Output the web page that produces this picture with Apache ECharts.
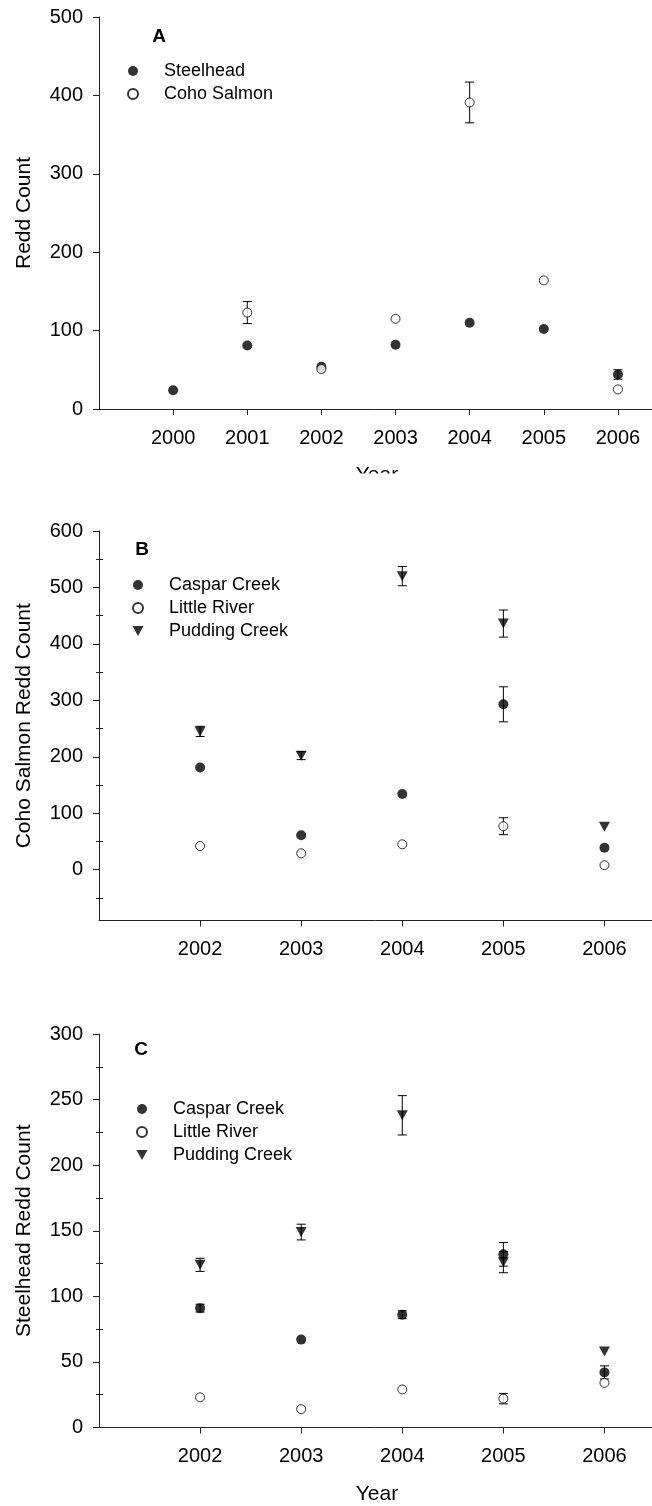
<!DOCTYPE html>
<html>
<head>
<meta charset="utf-8">
<script src="https://cdn.jsdelivr.net/npm/echarts@6/dist/echarts.min.js"></script>
<style>
html,body{margin:0;padding:0;background:#fff;}
#chart{width:652px;height:1506px;}
</style>
</head>
<body>
<div id="chart"></div>
<script>
// ---------- Panel A ----------
const yearsA = [2000, 2001, 2002, 2003, 2004, 2005, 2006];
const steelheadA = [24, 81, 54, 82, 110, 102, 44];
const steelheadErrA = [0, 0, 0, 0, 0, 0, 6];
const cohoA = [null, 123, 51, 115, 391, 164, 25];
const cohoErrA = [0, 14, 0, 0, 26, 0, 0];
const yTicksA = [0, 100, 200, 300, 400, 500];

// ---------- Panel B (Coho salmon) ----------
const yearsB = [2002, 2003, 2004, 2005, 2006];
const casparB = [181, 61, 134, 293, 39];
const casparErrB = [0, 0, 0, 31, 0];
const littleB = [42, 29, 45, 77, 8];
const littleErrB = [0, 0, 0, 15, 0];
const puddingB = [245, 202, 520, 436, 76];
const puddingErrB = [9, 7, 17, 24, 0];
const yTicksB = [0, 100, 200, 300, 400, 500, 600];
const yMinorB = [-50, 50, 150, 250, 350, 450, 550];

// ---------- Panel C (Steelhead) ----------
const yearsC = [2002, 2003, 2004, 2005, 2006];
const casparC = [91, 67, 86, 132, 42];
const casparErrC = [3, 0, 3, 9, 5];
const littleC = [23, 14, 29, 22, 34];
const littleErrC = [0, 0, 0, 4, 0];
const puddingC = [124, 149, 238, 126, 58];
const puddingErrC = [5, 6, 15, 8, 0];
const yTicksC = [0, 50, 100, 150, 200, 250, 300];
const yMinorC = [25, 75, 125, 175, 225, 275];

const FONT = 'Liberation Sans, Arial, Helvetica, sans-serif';
const AX = '#222';
const TRI = 'path://M0,0L10,0L5,9Z';

function pts(xs, ys) {
  const out = [];
  xs.forEach((x, i) => { if (ys[i] != null) out.push([x, ys[i]]); });
  return out;
}
function errs(xs, ys, es) {
  const out = [];
  xs.forEach((x, i) => { if (ys[i] != null && es[i] > 0) out.push([x, ys[i] - es[i], ys[i] + es[i]]); });
  return out;
}
function renderErr(params, api) {
  const x = api.value(0), lo = api.value(1), hi = api.value(2);
  const a = api.coord([x, lo]), b = api.coord([x, hi]);
  const w = 4.5, st = { stroke: '#000', lineWidth: 1 };
  return {
    type: 'group', children: [
      { type: 'line', shape: { x1: a[0], y1: a[1], x2: b[0], y2: b[1] }, style: st },
      { type: 'line', shape: { x1: a[0] - w, y1: a[1], x2: a[0] + w, y2: a[1] }, style: st },
      { type: 'line', shape: { x1: b[0] - w, y1: b[1], x2: b[0] + w, y2: b[1] }, style: st }
    ]
  };
}
function errSeries(name, xi, yi, data) {
  return { type: 'custom', name: name, xAxisIndex: xi, yAxisIndex: yi, z: 1,
    renderItem: renderErr, encode: { x: 0, y: [1, 2] }, data: data, silent: true };
}
const filled = { color: '#000', borderColor: '#000', borderWidth: 0 };
const open = { color: '#fff', borderColor: '#000', borderWidth: 1 };
function sc(name, xi, yi, data, kind) {
  const s = { type: 'scatter', name: name, xAxisIndex: xi, yAxisIndex: yi, z: 3, data: data, silent: true };
  if (kind === 'filled') { s.symbol = 'circle'; s.symbolSize = 10; s.itemStyle = filled; }
  else if (kind === 'open') { s.symbol = 'circle'; s.symbolSize = 9; s.itemStyle = open; }
  else { s.symbol = TRI; s.symbolSize = [11, 10]; s.symbolKeepAspect = false; s.itemStyle = filled; }
  return s;
}

function xAxis(gi, min, ticks, showLabel, name) {
  return {
    type: 'value', gridIndex: gi, min: min, max: 2006.5,
    axisLine: { show: true, onZero: false, lineStyle: { color: AX, width: 1 } },
    axisTick: { show: true, customValues: ticks, length: 6, inside: false, lineStyle: { color: AX, width: 1 } },
    axisLabel: { show: showLabel, customValues: ticks, formatter: v => String(v), fontSize: 20, color: '#000', fontFamily: FONT, margin: 19 },
    splitLine: { show: false },
    name: name || '', nameLocation: 'middle', nameGap: 56,
    nameTextStyle: { fontSize: 21, color: '#000', fontFamily: FONT }
  };
}
function yMain(gi, min, max, ticks, name) {
  return {
    type: 'value', gridIndex: gi, min: min, max: max, position: 'left',
    axisLine: { show: true, onZero: false, lineStyle: { color: AX, width: 1 } },
    axisTick: { show: true, customValues: ticks, length: 6, inside: false, lineStyle: { color: AX, width: 1 } },
    axisLabel: { customValues: ticks, formatter: v => String(v), fontSize: 20, color: '#000', fontFamily: FONT, margin: 16 },
    splitLine: { show: false },
    name: name, nameLocation: 'middle', nameGap: 64, nameRotate: 90,
    nameTextStyle: { fontSize: 21, color: '#000', fontFamily: FONT }
  };
}
function yMinor(gi, min, max, ticks, inside, len) {
  return {
    type: 'value', gridIndex: gi, min: min, max: max, position: 'left', offset: 0,
    axisLine: { show: false },
    axisTick: { show: true, customValues: ticks, length: len, inside: inside, lineStyle: { color: AX, width: 1 } },
    axisLabel: { show: false },
    splitLine: { show: false }
  };
}
function legend(left, top, names) {
  return {
    orient: 'vertical', left: left, top: top, padding: 0, itemGap: 5,
    itemWidth: 52, itemHeight: 10, data: names, selectedMode: false,
    textStyle: { fontSize: 18, color: '#000', fontFamily: FONT, lineHeight: 18 }
  };
}

const chart = echarts.init(document.getElementById('chart'), null, { renderer: 'canvas' });
chart.setOption({
  animation: false,
  backgroundColor: '#fff',
  grid: [
    { left: 99, top: 17, width: 556, height: 392, containLabel: false, outerBoundsMode: 'none' },
    { left: 99, top: 531, width: 556, height: 389.5, containLabel: false, outerBoundsMode: 'none' },
    { left: 99, top: 1034, width: 556, height: 393.5, containLabel: false, outerBoundsMode: 'none' }
  ],
  xAxis: [
    xAxis(0, 1999, yearsA, true, 'Year'),
    xAxis(1, 2001, yearsB, true, ''),
    xAxis(2, 2001, yearsC, true, 'Year')
  ],
  yAxis: [
    yMain(0, 0, 500, yTicksA, 'Redd Count'),
    yMain(1, -90, 600, yTicksB, 'Coho Salmon Redd Count'),
    yMinor(1, -90, 600, yMinorB, false, 3),
    yMinor(1, -90, 600, yMinorB, true, 4),
    yMain(2, 0, 300, yTicksC, 'Steelhead Redd Count'),
    yMinor(2, 0, 300, yMinorC, false, 3),
    yMinor(2, 0, 300, yMinorC, true, 4)
  ],
  legend: [
    legend(127, 62, ['Steelhead', 'Coho Salmon']),
    legend(132, 576, ['Caspar Creek', 'Little River', 'Pudding Creek']),
    legend(136, 1100, ['Caspar Creek', 'Little River', 'Pudding Creek'])
  ],
  graphic: [
    { type: 'rect', left: 0, top: 473.5, shape: { width: 652, height: 30 }, style: { fill: '#fff' }, z: 100 },
    { type: 'text', x: 159, y: 37, style: { text: 'A', font: 'bold 19px ' + FONT, fill: '#000', align: 'center', verticalAlign: 'middle' }, z: 100 },
    { type: 'text', x: 142, y: 550, style: { text: 'B', font: 'bold 19px ' + FONT, fill: '#000', align: 'center', verticalAlign: 'middle' }, z: 100 },
    { type: 'text', x: 141, y: 1050, style: { text: 'C', font: 'bold 19px ' + FONT, fill: '#000', align: 'center', verticalAlign: 'middle' }, z: 100 }
  ],
  series: [
    errSeries('errSteelA', 0, 0, errs(yearsA, steelheadA, steelheadErrA)),
    errSeries('errCohoA', 0, 0, errs(yearsA, cohoA, cohoErrA)),
    sc('Steelhead', 0, 0, pts(yearsA, steelheadA), 'filled'),
    sc('Coho Salmon', 0, 0, pts(yearsA, cohoA), 'open'),

    errSeries('errCasparB', 1, 1, errs(yearsB, casparB, casparErrB)),
    errSeries('errLittleB', 1, 1, errs(yearsB, littleB, littleErrB)),
    errSeries('errPuddingB', 1, 1, errs(yearsB, puddingB, puddingErrB)),
    sc('Caspar Creek', 1, 1, pts(yearsB, casparB), 'filled'),
    sc('Little River', 1, 1, pts(yearsB, littleB), 'open'),
    sc('Pudding Creek', 1, 1, pts(yearsB, puddingB), 'tri'),

    errSeries('errCasparC', 2, 4, errs(yearsC, casparC, casparErrC)),
    errSeries('errLittleC', 2, 4, errs(yearsC, littleC, littleErrC)),
    errSeries('errPuddingC', 2, 4, errs(yearsC, puddingC, puddingErrC)),
    sc('Caspar Creek', 2, 4, pts(yearsC, casparC), 'filled'),
    sc('Little River', 2, 4, pts(yearsC, littleC), 'open'),
    sc('Pudding Creek', 2, 4, pts(yearsC, puddingC), 'tri')
  ]
});
</script>
</body>
</html>
